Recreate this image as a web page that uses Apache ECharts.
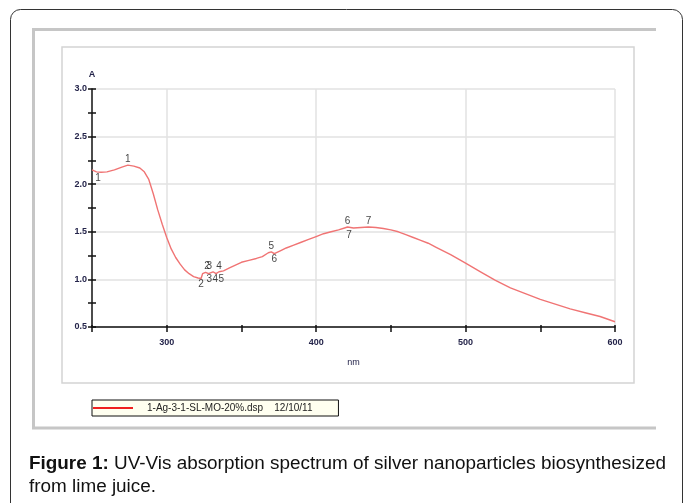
<!DOCTYPE html>
<html>
<head>
<meta charset="utf-8">
<script src="https://cdn.jsdelivr.net/npm/echarts@6/dist/echarts.min.js"></script>
<style>
html, body { margin: 0; padding: 0; background: #fff; }
#main { width: 683px; height: 503px; }
</style>
</head>
<body>
<div id="main"></div>
<script>
// spectrum: wavelength (nm) and absorbance (A)
var wavelength = [250, 253, 256, 260, 265, 270, 274, 278, 282, 285, 288, 291, 294, 297, 300,
	303, 306, 309, 312, 315, 318, 321, 323, 324, 326, 327, 328, 329, 331, 333, 335, 336, 338,
	342, 346, 350, 355, 360, 364, 368, 370, 372, 376, 380, 385, 390, 395, 400, 405, 410, 415,
	419, 421, 422, 425, 430, 435, 440, 445, 450, 455, 460, 465, 470, 475, 480, 490, 500, 510,
	520, 530, 540, 550, 560, 570, 580, 590, 600];
var absorbance = [2.15, 2.13, 2.125, 2.13, 2.15, 2.18, 2.20, 2.19, 2.17, 2.13, 2.05, 1.90, 1.73, 1.58, 1.44,
	1.32, 1.23, 1.16, 1.10, 1.06, 1.03, 1.015, 1.01, 1.06, 1.075, 1.08, 1.06, 1.07, 1.08, 1.06, 1.08, 1.065, 1.09,
	1.12, 1.15, 1.18, 1.20, 1.22, 1.24, 1.28, 1.29, 1.27, 1.30, 1.33, 1.36, 1.39, 1.42, 1.45, 1.48, 1.50, 1.52,
	1.54, 1.55, 1.53, 1.54, 1.545, 1.55, 1.545, 1.535, 1.52, 1.50, 1.47, 1.44, 1.41, 1.38, 1.34, 1.26, 1.17, 1.08,
	0.99, 0.91, 0.85, 0.79, 0.74, 0.69, 0.65, 0.61, 0.555];

// peak picks (label above) and valley picks (label below): [nm, A, number]
var peaks = [[274, 2.20, '1'], [327, 1.08, '2'], [328.5, 1.075, '3'], [335, 1.08, '4'],
	[370, 1.29, '5'], [421, 1.55, '6'], [435, 1.55, '7']];
var valleys = [[254, 2.125, '1'], [323, 1.01, '2'], [328.5, 1.06, '3'], [332.5, 1.065, '4'],
	[336.5, 1.065, '5'], [372, 1.27, '6'], [422, 1.53, '7']];

var seriesName = '1-Ag-3-1-SL-MO-20%.dsp    12/10/11';
var captionBold = 'Figure 1:';
var captionLines = [' UV-Vis absorption spectrum of silver nanoparticles biosynthesized', 'from lime juice.'];

var spectrum = [];
for (var i = 0; i < wavelength.length; i++) {
	spectrum.push([wavelength[i], absorbance[i]]);
}

var tickFont = { fontSize: 9, fontWeight: 'bold', color: '#24244a', fontFamily: 'Liberation Sans' };
var pickLabel = { show: true, formatter: function (p) { return p.value[2]; },
	fontSize: 10, color: '#111', fontFamily: 'Liberation Sans', distance: 1 };

// second pair of axes only draws the inner half of the tick marks
var xBase = { type: 'value', min: 250, max: 600, interval: 50 };
var yBase = { type: 'value', min: 0.5, max: 3.0, interval: 0.25 };

var chart = echarts.init(document.getElementById('main'));
chart.setOption({
	backgroundColor: '#fff',
	animation: false,
	grid: { left: 92, right: 68, top: 89, bottom: 176 },
	xAxis: [Object.assign({
		name: 'nm', nameLocation: 'middle', nameGap: 31,
		nameTextStyle: { fontSize: 9, color: '#24244a', fontFamily: 'Liberation Sans' },
		axisLine: { lineStyle: { color: '#111', width: 1.5 } },
		axisTick: { length: 5, lineStyle: { color: '#111', width: 1.5 } },
		axisLabel: Object.assign({ margin: 11, formatter: function (v) { return v % 100 === 0 ? v : ''; } }, tickFont),
		splitLine: { show: true, lineStyle: { color: ['rgba(0,0,0,0)', '#e2e2e2'], width: 1.5 } }
	}, xBase), Object.assign({
		position: 'bottom',
		axisLine: { show: false },
		axisTick: { inside: true, length: 2, lineStyle: { color: '#111', width: 1.5 } },
		axisLabel: { show: false },
		splitLine: { show: false }
	}, xBase)],
	yAxis: [Object.assign({
		name: 'A', nameLocation: 'end', nameGap: 10,
		nameTextStyle: { fontSize: 9, fontWeight: 'bold', color: '#24244a', align: 'center', fontFamily: 'Liberation Sans' },
		axisLine: { show: true, lineStyle: { color: '#111', width: 1.5 } },
		axisTick: { show: true, length: 4, lineStyle: { color: '#111', width: 1.5 } },
		axisLabel: Object.assign({ margin: 5, formatter: function (v) {
			return Math.abs(v * 2 - Math.round(v * 2)) < 1e-6 ? v.toFixed(1) : '';
		} }, tickFont),
		splitLine: { show: true, lineStyle: { color: ['#e2e2e2', 'rgba(0,0,0,0)'], width: 1.5 } }
	}, yBase), Object.assign({
		position: 'left',
		axisLine: { show: false },
		axisTick: { show: true, inside: true, length: 4, lineStyle: { color: '#111', width: 1.5 } },
		axisLabel: { show: false },
		splitLine: { show: false }
	}, yBase)],
	legend: {
		left: 92, top: 400,
		data: [{ name: seriesName, icon: 'rect' }],
		backgroundColor: '#fffff0', borderColor: '#111', borderWidth: 1,
		padding: [3, 26, 3, 1],
		itemWidth: 40, itemHeight: 2,
		textStyle: { fontSize: 10, color: '#222', fontFamily: 'Liberation Sans', padding: [0, 0, 0, 9] }
	},
	series: [{
		name: seriesName,
		type: 'line',
		data: spectrum,
		symbol: 'none',
		lineStyle: { color: '#f07474', width: 1.4 },
		itemStyle: { color: '#f02020' }
	}, {
		type: 'scatter', data: peaks, symbolSize: 0, silent: true,
		label: Object.assign({ position: 'top' }, pickLabel)
	}, {
		type: 'scatter', data: valleys, symbolSize: 0, silent: true,
		label: Object.assign({ position: 'bottom' }, pickLabel)
	}],
	graphic: [
		{ type: 'rect', shape: { x: 10.5, y: 9.5, width: 672, height: 530, r: 10 }, style: { fill: 'none', stroke: '#333', lineWidth: 1 }, z: -1 },
		{ type: 'polyline', shape: { points: [[656, 29.5], [33.5, 29.5], [33.5, 428], [656, 428]] }, style: { fill: 'none', stroke: '#c6c6c6', lineWidth: 3 }, z: -1 },
		{ type: 'rect', shape: { x: 62, y: 47, width: 572, height: 336 }, style: { fill: 'none', stroke: '#d4d4d4', lineWidth: 1.5 }, z: -1 },
		{ type: 'text', left: 29, top: 452, style: {
			text: '{b|' + captionBold + '}' + captionLines[0] + '\n' + captionLines[1],
			font: '18.9px "Liberation Sans"', fill: '#111', lineHeight: 23,
			rich: { b: { fontWeight: 'bold', fontSize: 18.9, fontFamily: 'Liberation Sans', fill: '#111', lineHeight: 23 } }
		} }
	]
});
</script>
</body>
</html>
